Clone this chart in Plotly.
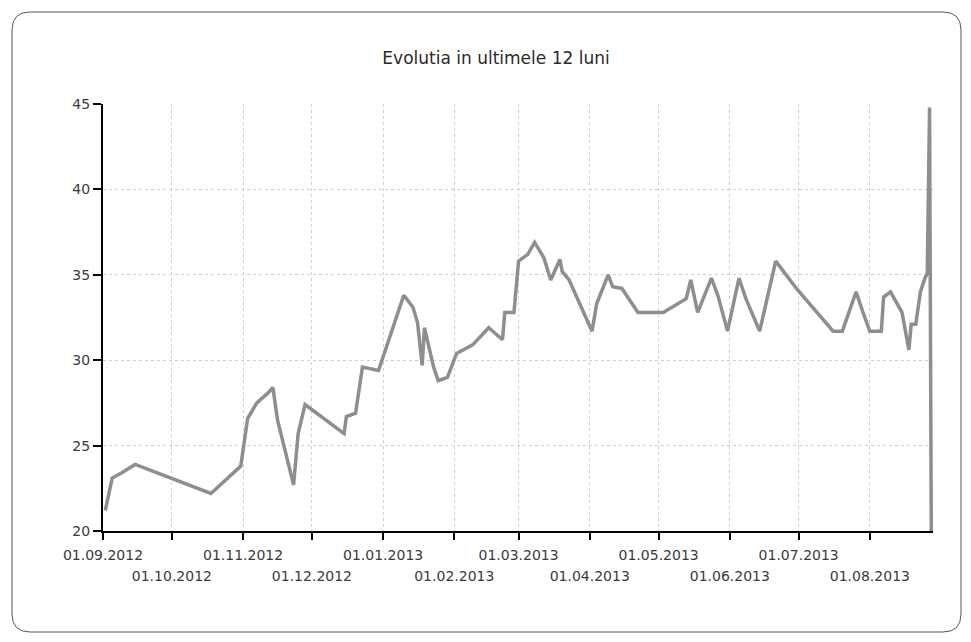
import plotly.graph_objects as go

# ---------------- data ----------------
title_text = "Evolutia in ultimele 12 luni"

dates = [
    "2012-09-02", "2012-09-05", "2012-09-09", "2012-09-15", "2012-10-18",
    "2012-10-31", "2012-11-03", "2012-11-07", "2012-11-12", "2012-11-14",
    "2012-11-16", "2012-11-23", "2012-11-25", "2012-11-28", "2012-12-15",
    "2012-12-16", "2012-12-20", "2012-12-21", "2012-12-23", "2012-12-30",
    "2013-01-10", "2013-01-14", "2013-01-16", "2013-01-18", "2013-01-19",
    "2013-01-23", "2013-01-25", "2013-01-29", "2013-02-02", "2013-02-09",
    "2013-02-16", "2013-02-22", "2013-02-23", "2013-02-27", "2013-03-01",
    "2013-03-05", "2013-03-08", "2013-03-12", "2013-03-15", "2013-03-19",
    "2013-03-20", "2013-03-23", "2013-04-02", "2013-04-04", "2013-04-09",
    "2013-04-11", "2013-04-15", "2013-04-22", "2013-05-03", "2013-05-13",
    "2013-05-15", "2013-05-18", "2013-05-24", "2013-05-27", "2013-05-31",
    "2013-06-05", "2013-06-08", "2013-06-14", "2013-06-21", "2013-06-30",
    "2013-07-16", "2013-07-20", "2013-07-26", "2013-07-29", "2013-08-01",
    "2013-08-06", "2013-08-07", "2013-08-10", "2013-08-15", "2013-08-18",
    "2013-08-19", "2013-08-21", "2013-08-23", "2013-08-25", "2013-08-26",
    "2013-08-27", "2013-08-27 18:00",
]
values = [
    21.2, 23.1, 23.4, 23.9, 22.2,
    23.8, 26.6, 27.5, 28.1, 28.4,
    26.5, 22.7, 25.7, 27.4, 25.7,
    26.7, 26.9, 27.8, 29.6, 29.4,
    33.8, 33.1, 32.2, 29.7, 31.9,
    29.6, 28.8, 29.0, 30.4, 30.9,
    31.9, 31.2, 32.8, 32.8, 35.8,
    36.2, 36.9, 36.0, 34.7, 35.9,
    35.2, 34.7, 31.7, 33.3, 35.0,
    34.3, 34.2, 32.8, 32.8, 33.6,
    34.7, 32.8, 34.8, 33.7, 31.7,
    34.8, 33.6, 31.7, 35.8, 34.2,
    31.7, 31.7, 34.0, 32.8, 31.7,
    31.7, 33.7, 34.0, 32.8, 30.6,
    32.1, 32.1, 34.0, 34.8, 35.1,
    44.8, 20.0,
]

month_ticks = [
    "2012-09-01", "2012-10-01", "2012-11-01", "2012-12-01", "2013-01-01",
    "2013-02-01", "2013-03-01", "2013-04-01", "2013-05-01", "2013-06-01",
    "2013-07-01", "2013-08-01",
]
month_labels = [
    "01.09.2012", "01.10.2012", "01.11.2012", "01.12.2012", "01.01.2013",
    "01.02.2013", "01.03.2013", "01.04.2013", "01.05.2013", "01.06.2013",
    "01.07.2013", "01.08.2013",
]
y_ticks = [20, 25, 30, 35, 40, 45]
x_range = ["2012-09-01", "2013-08-28 12:00"]
y_range = [20, 45]

# ---------------- layout ----------------
OFF = 8                      # page body margin of the browser
W, H = 971 - 2 * OFF, 642 - 2 * OFF
L, R, T, B = 103 - OFF, 933 - OFF, 104 - OFF, 531 - OFF  # plot area
FONT = "DejaVu Sans, Verdana, sans-serif"

fig = go.Figure()
fig.add_trace(go.Scatter(
    x=dates, y=values, mode="lines",
    line=dict(color="#8e8e8e", width=3.5),
    hoverinfo="x+y", showlegend=False,
))
# invisible helper trace for the second-row label axis
fig.add_trace(go.Scatter(
    x=x_range, y=y_range, xaxis="x2", mode="markers",
    marker=dict(opacity=0), hoverinfo="skip", showlegend=False,
))

top_row = [lbl if i % 2 == 0 else "" for i, lbl in enumerate(month_labels)]
bot_vals = [d for i, d in enumerate(month_ticks) if i % 2 == 1]
bot_text = [lbl for i, lbl in enumerate(month_labels) if i % 2 == 1]

grid = dict(showgrid=True, gridcolor="#cfcfcf", griddash="dot", gridwidth=1)

fig.update_layout(
    width=W, height=H,
    margin=dict(l=L, r=W - R, t=T, b=H - B, autoexpand=False),
    paper_bgcolor="white", plot_bgcolor="white",
    font=dict(family=FONT, size=14, color="#3a3a3a"),
    title=dict(text=title_text, x=(496 - OFF) / W, xanchor="center",
               y=1 - (58 - OFF) / H, yanchor="middle",
               font=dict(family=FONT, size=17, color="#2a2a2a")),
    xaxis=dict(
        type="date", range=x_range, tickmode="array",
        tickvals=month_ticks, ticktext=top_row,
        ticks="outside", ticklen=7, tickwidth=2, tickcolor="black",
        showline=True, linecolor="black", linewidth=2,
        ticklabelstandoff=3,
        zeroline=False, **grid,
    ),
    xaxis2=dict(
        type="date", range=x_range, overlaying="x", anchor="y", side="bottom",
        tickmode="array", tickvals=bot_vals, ticktext=bot_text,
        ticks="", showline=False, showgrid=False, zeroline=False,
        ticklabelstandoff=35,
    ),
    yaxis=dict(
        range=y_range, tickmode="array", tickvals=y_ticks,
        ticks="outside", ticklen=8, tickwidth=2, tickcolor="black",
        showline=True, linecolor="black", linewidth=2,
        zeroline=False, **grid,
    ),
)

# rounded frame around the whole chart (pixel -> paper conversion)
def px(xp):
    return (xp - L) / (R - L)

def py(yp):
    return (B - yp) / (B - T)

x0, y0, x1, y1, r = 12 - OFF, 12 - OFF, 961 - OFF, 632 - OFF, 18
path = (
    f"M {px(x0 + r)},{py(y0)} L {px(x1 - r)},{py(y0)} "
    f"Q {px(x1)},{py(y0)} {px(x1)},{py(y0 + r)} "
    f"L {px(x1)},{py(y1 - r)} Q {px(x1)},{py(y1)} {px(x1 - r)},{py(y1)} "
    f"L {px(x0 + r)},{py(y1)} Q {px(x0)},{py(y1)} {px(x0)},{py(y1 - r)} "
    f"L {px(x0)},{py(y0 + r)} Q {px(x0)},{py(y0)} {px(x0 + r)},{py(y0)} Z"
)
fig.add_shape(type="path", path=path, xref="paper", yref="paper",
              line=dict(color="#555555", width=1), layer="below")

fig.write_html("out.html")
